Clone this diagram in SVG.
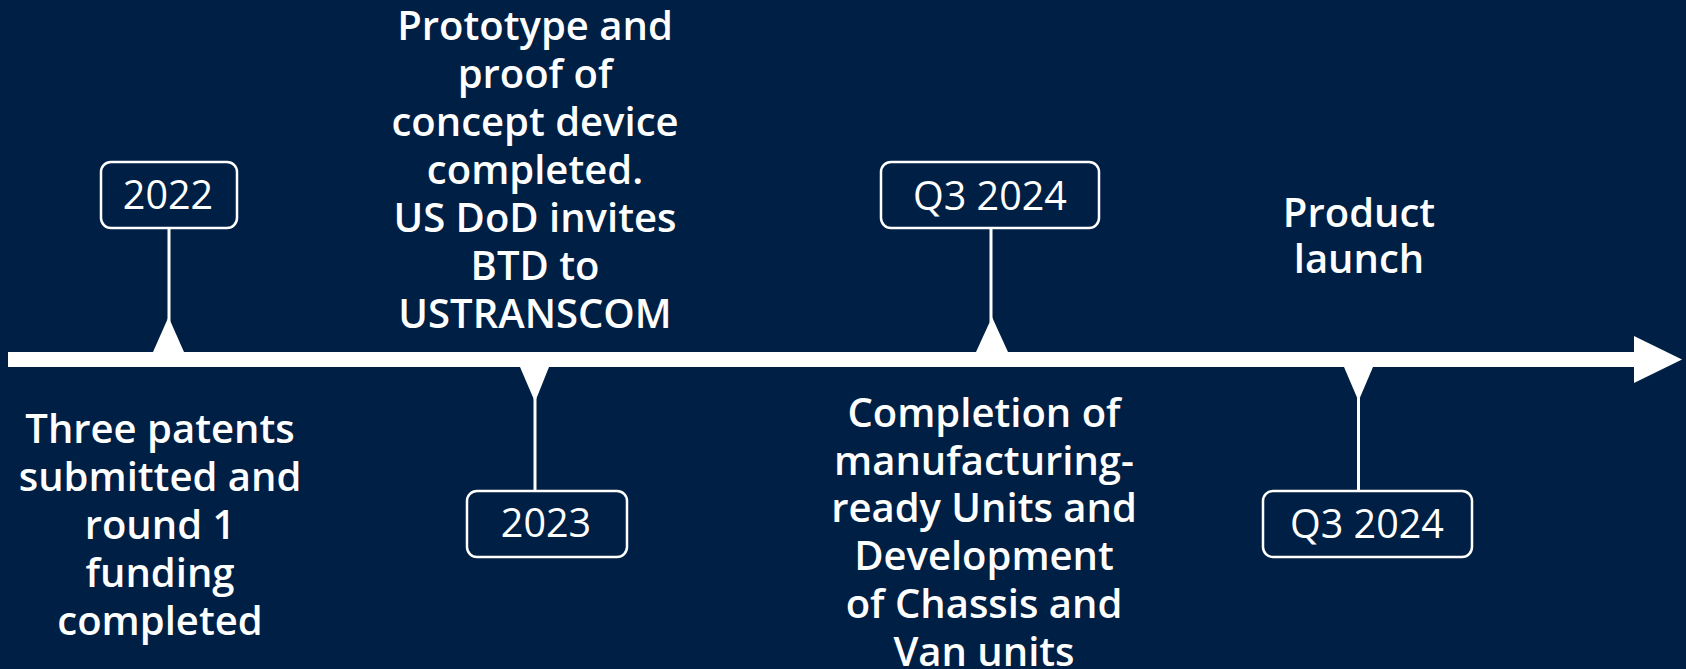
<svg xmlns="http://www.w3.org/2000/svg" width="1686" height="669" viewBox="0 0 1686 669">
  <style>
    .box { fill: #001f44; stroke: #ffffff; stroke-width: 2.5; }
    .stem { stroke: #ffffff; stroke-width: 3; fill: none; }
    .tri { fill: #ffffff; }
    .yr { font-family: "Open Sans", "Liberation Sans", sans-serif; font-size: 39.5px; fill: #ffffff; text-anchor: middle; }
    .lbl { font-family: "Open Sans", "Liberation Sans", sans-serif; font-size: 40px; font-weight: 600; fill: #ffffff; text-anchor: middle; }
  </style>
  <rect x="0" y="0" width="1686" height="669" fill="#001f44"/>
  <g id="connectors">
    <rect x="8" y="352" width="1628" height="15" fill="#ffffff"/>
    <polygon points="1634,336 1682,359.5 1634,383" fill="#ffffff"/>
    <line class="stem" x1="169" y1="228" x2="169" y2="322"/>
    <polygon class="tri" points="153,352 184,352 168.5,317"/>
    <line class="stem" x1="991" y1="228" x2="991" y2="322"/>
    <polygon class="tri" points="976,352 1008,352 992,317"/>
    <line class="stem" x1="535" y1="398" x2="535" y2="491"/>
    <polygon class="tri" points="520,367 549,367 535,402"/>
    <line class="stem" x1="1358.5" y1="398" x2="1358.5" y2="491"/>
    <polygon class="tri" points="1344,367 1373,367 1358.5,401"/>
  </g>
  <g id="node-2022">
    <rect class="box" x="101" y="162" width="136" height="66" rx="10"/>
    <text class="yr" x="168" y="209">2022</text>
  </g>
  <g id="label-2022">
    <text class="lbl" x="160" y="443">Three patents</text>
    <text class="lbl" x="160" y="491">submitted and</text>
    <text class="lbl" x="160" y="539">round 1</text>
    <text class="lbl" x="160" y="587">funding</text>
    <text class="lbl" x="160" y="635">completed</text>
  </g>
  <g id="node-2023">
    <rect class="box" x="467" y="491" width="160" height="66" rx="10"/>
    <text class="yr" x="546" y="537">2023</text>
  </g>
  <g id="label-2023">
    <text class="lbl" x="535" y="40">Prototype and</text>
    <text class="lbl" x="535" y="88">proof of</text>
    <text class="lbl" x="535" y="136">concept device</text>
    <text class="lbl" x="535" y="184">completed.</text>
    <text class="lbl" x="535" y="232">US DoD invites</text>
    <text class="lbl" x="535" y="280">BTD to</text>
    <text class="lbl" x="535" y="328">USTRANSCOM</text>
  </g>
  <g id="node-q3-2024-a">
    <rect class="box" x="881" y="162" width="218" height="66" rx="10"/>
    <text class="yr" x="990" y="210">Q3 2024</text>
  </g>
  <g id="label-q3-2024-a">
    <text class="lbl" x="984" y="427">Completion of</text>
    <text class="lbl" x="984" y="475">manufacturing-</text>
    <text class="lbl" x="984" y="522">ready Units and</text>
    <text class="lbl" x="984" y="570">Development</text>
    <text class="lbl" x="984" y="618">of Chassis and</text>
    <text class="lbl" x="984" y="666">Van units</text>
  </g>
  <g id="node-q3-2024-b">
    <rect class="box" x="1263" y="491" width="209" height="66" rx="10"/>
    <text class="yr" x="1367" y="538">Q3 2024</text>
  </g>
  <g id="label-q3-2024-b">
    <text class="lbl" x="1359" y="227">Product</text>
    <text class="lbl" x="1359" y="273">launch</text>
  </g>
</svg>
